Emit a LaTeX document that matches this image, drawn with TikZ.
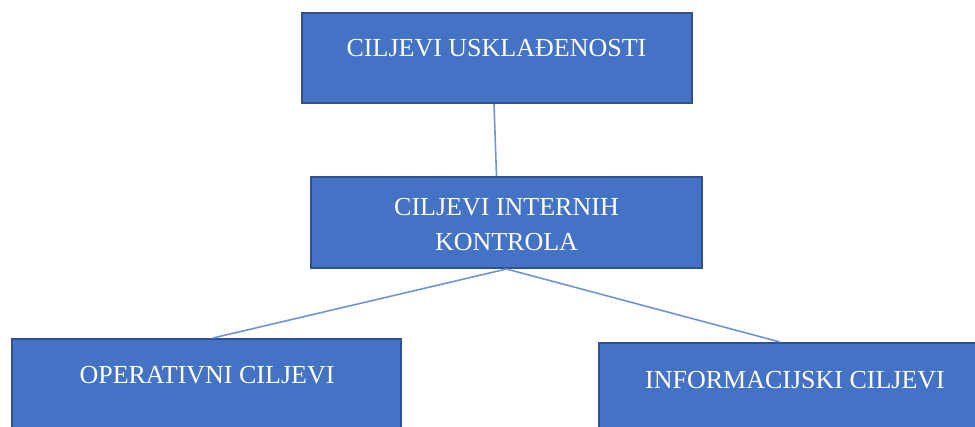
\documentclass[tikz,border=0pt]{standalone}
\usepackage{fontspec}
\setmainfont{Liberation Serif}
\definecolor{boxfill}{HTML}{4472C4}
\definecolor{boxline}{HTML}{2F528F}
\definecolor{conn}{HTML}{6F94D8}
\begin{document}
\begin{tikzpicture}[x=1pt,y=-1pt,
  box/.style={draw=boxline, fill=boxfill, line width=2pt, inner sep=0pt, rectangle},
  txt/.style={text=white, font=\fontsize{26}{35}\selectfont, anchor=base, inner sep=0pt, align=center},
  link/.style={draw=conn, line width=1.6pt}]
\useasboundingbox (0,0) rectangle (975,426);
\clip (0,0) rectangle (975,426);
\node[box, minimum width=390, minimum height=90] (top) at (497,58) {};
\node[box, minimum width=391, minimum height=91] (mid) at (506.5,222.5) {};
\node[box, minimum width=389, minimum height=90] (left) at (206.5,384) {};
\node[box, minimum width=392, minimum height=90] (right) at (795,388) {};
\node[txt] (ttop) at (496.5,56.5) {CILJEVI USKLAĐENOSTI};
\node[txt] (tmid1) at (506.5,215.5) {CILJEVI INTERNIH};
\node[txt] (tmid2) at (506.5,250.5) {KONTROLA};
\node[txt] (tleft) at (207,383) {OPERATIVNI CILJEVI};
\node[txt] (tright) at (795,388) {INFORMACIJSKI CILJEVI};
\draw[link] ([xshift=-3pt]top.south) -- ([xshift=-10pt]mid.north);
\draw[link] (mid.south) -- ([xshift=6.5pt]left.north);
\draw[link] (mid.south) -- ([xshift=-15pt]right.north);
\end{tikzpicture}
\end{document}
